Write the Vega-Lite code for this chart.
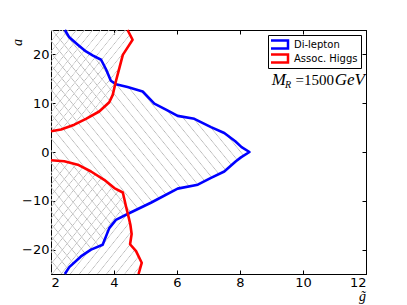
{
  "$schema": "https://vega.github.io/schema/vega-lite/v6.json",
  "autosize": {"type": "none"},
  "padding": {"left": 51, "top": 30, "right": 41, "bottom": 31},
  "width": 315,
  "height": 244,
  "background": "white",
  "config": {
    "view": {"stroke": "black", "strokeWidth": 1},
    "axis": {
      "domainColor": "black", "tickColor": "black", "labelColor": "black",
      "labelFont": "DejaVu Sans", "labelFontSize": 13, "grid": false,
      "tickSize": -4, "labelPadding": 6, "tickWidth": 1, "domainWidth": 1,
      "titleFont": "Liberation Serif", "titleFontStyle": "italic", "titleFontWeight": "normal", "titleFontSize": 14, "titleColor": "black"
    },
    "legend": {
      "orient": "top-right", "offset": 5,
      "strokeColor": "black", "fillColor": "white", "padding": 3,
      "labelFont": "DejaVu Sans", "labelFontSize": 10, "labelColor": "black",
      "symbolType": "M-4,-1.33H4V1.33H-4Z", "symbolSize": 36, "clipHeight": 13,
      "symbolStrokeWidth": 2.5, "symbolFillColor": "white", "labelOffset": 13, "rowPadding": 1, "titlePadding": 0
    }
  },
  "datasets": {
    "curves": [
      {"curve": "dl", "series": "Di-lepton", "i": 0, "g": 2.44, "a": 25},
      {"curve": "dl", "series": "Di-lepton", "i": 1, "g": 2.58, "a": 23.5},
      {"curve": "dl", "series": "Di-lepton", "i": 2, "g": 2.85, "a": 22.0},
      {"curve": "dl", "series": "Di-lepton", "i": 3, "g": 3.11, "a": 20.6},
      {"curve": "dl", "series": "Di-lepton", "i": 4, "g": 3.32, "a": 19.8},
      {"curve": "dl", "series": "Di-lepton", "i": 5, "g": 3.59, "a": 18.9},
      {"curve": "dl", "series": "Di-lepton", "i": 6, "g": 3.75, "a": 16.9},
      {"curve": "dl", "series": "Di-lepton", "i": 7, "g": 3.90, "a": 14.6},
      {"curve": "dl", "series": "Di-lepton", "i": 8, "g": 4.06, "a": 13.9},
      {"curve": "dl", "series": "Di-lepton", "i": 9, "g": 4.43, "a": 13.3},
      {"curve": "dl", "series": "Di-lepton", "i": 10, "g": 4.91, "a": 12.4},
      {"curve": "dl", "series": "Di-lepton", "i": 11, "g": 5.28, "a": 9.9},
      {"curve": "dl", "series": "Di-lepton", "i": 12, "g": 5.65, "a": 8.7},
      {"curve": "dl", "series": "Di-lepton", "i": 13, "g": 6.02, "a": 7.4},
      {"curve": "dl", "series": "Di-lepton", "i": 14, "g": 6.55, "a": 6.8},
      {"curve": "dl", "series": "Di-lepton", "i": 15, "g": 7.08, "a": 5.1},
      {"curve": "dl", "series": "Di-lepton", "i": 16, "g": 7.50, "a": 3.9},
      {"curve": "dl", "series": "Di-lepton", "i": 17, "g": 7.85, "a": 2.2},
      {"curve": "dl", "series": "Di-lepton", "i": 18, "g": 8.05, "a": 1.0},
      {"curve": "dl", "series": "Di-lepton", "i": 19, "g": 8.30, "a": 0.0},
      {"curve": "dl", "series": "Di-lepton", "i": 20, "g": 8.03, "a": -1.1},
      {"curve": "dl", "series": "Di-lepton", "i": 21, "g": 7.87, "a": -1.9},
      {"curve": "dl", "series": "Di-lepton", "i": 22, "g": 7.50, "a": -4.0},
      {"curve": "dl", "series": "Di-lepton", "i": 23, "g": 7.08, "a": -5.3},
      {"curve": "dl", "series": "Di-lepton", "i": 24, "g": 6.66, "a": -6.7},
      {"curve": "dl", "series": "Di-lepton", "i": 25, "g": 6.02, "a": -7.5},
      {"curve": "dl", "series": "Di-lepton", "i": 26, "g": 5.17, "a": -10.4},
      {"curve": "dl", "series": "Di-lepton", "i": 27, "g": 4.43, "a": -12.7},
      {"curve": "dl", "series": "Di-lepton", "i": 28, "g": 4.06, "a": -13.9},
      {"curve": "dl", "series": "Di-lepton", "i": 29, "g": 3.85, "a": -15.6},
      {"curve": "dl", "series": "Di-lepton", "i": 30, "g": 3.64, "a": -19.0},
      {"curve": "dl", "series": "Di-lepton", "i": 31, "g": 3.27, "a": -20.0},
      {"curve": "dl", "series": "Di-lepton", "i": 32, "g": 2.95, "a": -21.4},
      {"curve": "dl", "series": "Di-lepton", "i": 33, "g": 2.58, "a": -23.6},
      {"curve": "dl", "series": "Di-lepton", "i": 34, "g": 2.44, "a": -25},
      {"curve": "ahU", "series": "Assoc. Higgs", "i": 0, "g": 2.0, "a": 4.24},
      {"curve": "ahU", "series": "Assoc. Higgs", "i": 1, "g": 2.32, "a": 4.6},
      {"curve": "ahU", "series": "Assoc. Higgs", "i": 2, "g": 2.74, "a": 5.6},
      {"curve": "ahU", "series": "Assoc. Higgs", "i": 3, "g": 3.11, "a": 6.8},
      {"curve": "ahU", "series": "Assoc. Higgs", "i": 4, "g": 3.53, "a": 8.3},
      {"curve": "ahU", "series": "Assoc. Higgs", "i": 5, "g": 3.85, "a": 10.2},
      {"curve": "ahU", "series": "Assoc. Higgs", "i": 6, "g": 3.96, "a": 11.7},
      {"curve": "ahU", "series": "Assoc. Higgs", "i": 7, "g": 4.06, "a": 14.5},
      {"curve": "ahU", "series": "Assoc. Higgs", "i": 8, "g": 4.17, "a": 17.2},
      {"curve": "ahU", "series": "Assoc. Higgs", "i": 9, "g": 4.28, "a": 19.9},
      {"curve": "ahU", "series": "Assoc. Higgs", "i": 10, "g": 4.49, "a": 22.0},
      {"curve": "ahU", "series": "Assoc. Higgs", "i": 11, "g": 4.59, "a": 23.0},
      {"curve": "ahU", "series": "Assoc. Higgs", "i": 12, "g": 4.43, "a": 25.0},
      {"curve": "ahL", "series": "Assoc. Higgs", "i": 0, "g": 2.0, "a": -1.7},
      {"curve": "ahL", "series": "Assoc. Higgs", "i": 1, "g": 2.42, "a": -1.9},
      {"curve": "ahL", "series": "Assoc. Higgs", "i": 2, "g": 2.85, "a": -2.6},
      {"curve": "ahL", "series": "Assoc. Higgs", "i": 3, "g": 3.27, "a": -4.0},
      {"curve": "ahL", "series": "Assoc. Higgs", "i": 4, "g": 3.69, "a": -5.7},
      {"curve": "ahL", "series": "Assoc. Higgs", "i": 5, "g": 4.01, "a": -7.4},
      {"curve": "ahL", "series": "Assoc. Higgs", "i": 6, "g": 4.28, "a": -8.3},
      {"curve": "ahL", "series": "Assoc. Higgs", "i": 7, "g": 4.38, "a": -11.1},
      {"curve": "ahL", "series": "Assoc. Higgs", "i": 8, "g": 4.47, "a": -13.5},
      {"curve": "ahL", "series": "Assoc. Higgs", "i": 9, "g": 4.52, "a": -14.9},
      {"curve": "ahL", "series": "Assoc. Higgs", "i": 10, "g": 4.56, "a": -16.8},
      {"curve": "ahL", "series": "Assoc. Higgs", "i": 11, "g": 4.51, "a": -18.9},
      {"curve": "ahL", "series": "Assoc. Higgs", "i": 12, "g": 4.70, "a": -20.3},
      {"curve": "ahL", "series": "Assoc. Higgs", "i": 13, "g": 4.88, "a": -22.7},
      {"curve": "ahL", "series": "Assoc. Higgs", "i": 14, "g": 4.78, "a": -25.0}
    ],
    "labels": [
      {"t": "M", "g": 12, "a": 13.7},
      {"t": "R", "g": 12, "a": 13.7},
      {"t": "=1500", "g": 12, "a": 13.7},
      {"t": "GeV", "g": 12, "a": 13.7}
    ]
  },
  "data": {"name": "curves"},
  "resolve": {"axis": {"x": "independent", "y": "independent"}},
  "layer": [
    {
      "transform": [{"filter": "datum.curve == 'dl'"}],
      "mark": {
        "type": "area", "orient": "horizontal", "strokeWidth": 0,
        "fill": {"gradient": "linear", "x1": 0, "y1": 1, "x2": 1, "y2": 0, "stops": [
          {"offset": 0, "color": "rgba(255,255,255,0)"}, {"offset": 0.003, "color": "#b8b8b8"}, {"offset": 0.006, "color": "rgba(255,255,255,0)"},
          {"offset": 0.025, "color": "rgba(255,255,255,0)"}, {"offset": 0.028, "color": "#b8b8b8"}, {"offset": 0.031, "color": "rgba(255,255,255,0)"},
          {"offset": 0.05, "color": "rgba(255,255,255,0)"}, {"offset": 0.053, "color": "#b8b8b8"}, {"offset": 0.056, "color": "rgba(255,255,255,0)"},
          {"offset": 0.075, "color": "rgba(255,255,255,0)"}, {"offset": 0.078, "color": "#b8b8b8"}, {"offset": 0.081, "color": "rgba(255,255,255,0)"},
          {"offset": 0.1, "color": "rgba(255,255,255,0)"}, {"offset": 0.103, "color": "#b8b8b8"}, {"offset": 0.106, "color": "rgba(255,255,255,0)"},
          {"offset": 0.125, "color": "rgba(255,255,255,0)"}, {"offset": 0.128, "color": "#b8b8b8"}, {"offset": 0.131, "color": "rgba(255,255,255,0)"},
          {"offset": 0.15, "color": "rgba(255,255,255,0)"}, {"offset": 0.153, "color": "#b8b8b8"}, {"offset": 0.156, "color": "rgba(255,255,255,0)"},
          {"offset": 0.175, "color": "rgba(255,255,255,0)"}, {"offset": 0.178, "color": "#b8b8b8"}, {"offset": 0.181, "color": "rgba(255,255,255,0)"},
          {"offset": 0.2, "color": "rgba(255,255,255,0)"}, {"offset": 0.203, "color": "#b8b8b8"}, {"offset": 0.206, "color": "rgba(255,255,255,0)"},
          {"offset": 0.225, "color": "rgba(255,255,255,0)"}, {"offset": 0.228, "color": "#b8b8b8"}, {"offset": 0.231, "color": "rgba(255,255,255,0)"},
          {"offset": 0.25, "color": "rgba(255,255,255,0)"}, {"offset": 0.253, "color": "#b8b8b8"}, {"offset": 0.256, "color": "rgba(255,255,255,0)"},
          {"offset": 0.275, "color": "rgba(255,255,255,0)"}, {"offset": 0.278, "color": "#b8b8b8"}, {"offset": 0.281, "color": "rgba(255,255,255,0)"},
          {"offset": 0.3, "color": "rgba(255,255,255,0)"}, {"offset": 0.303, "color": "#b8b8b8"}, {"offset": 0.306, "color": "rgba(255,255,255,0)"},
          {"offset": 0.325, "color": "rgba(255,255,255,0)"}, {"offset": 0.328, "color": "#b8b8b8"}, {"offset": 0.331, "color": "rgba(255,255,255,0)"},
          {"offset": 0.35, "color": "rgba(255,255,255,0)"}, {"offset": 0.353, "color": "#b8b8b8"}, {"offset": 0.356, "color": "rgba(255,255,255,0)"},
          {"offset": 0.375, "color": "rgba(255,255,255,0)"}, {"offset": 0.378, "color": "#b8b8b8"}, {"offset": 0.381, "color": "rgba(255,255,255,0)"},
          {"offset": 0.4, "color": "rgba(255,255,255,0)"}, {"offset": 0.403, "color": "#b8b8b8"}, {"offset": 0.406, "color": "rgba(255,255,255,0)"},
          {"offset": 0.425, "color": "rgba(255,255,255,0)"}, {"offset": 0.428, "color": "#b8b8b8"}, {"offset": 0.431, "color": "rgba(255,255,255,0)"},
          {"offset": 0.45, "color": "rgba(255,255,255,0)"}, {"offset": 0.453, "color": "#b8b8b8"}, {"offset": 0.456, "color": "rgba(255,255,255,0)"},
          {"offset": 0.475, "color": "rgba(255,255,255,0)"}, {"offset": 0.478, "color": "#b8b8b8"}, {"offset": 0.481, "color": "rgba(255,255,255,0)"},
          {"offset": 0.5, "color": "rgba(255,255,255,0)"}, {"offset": 0.503, "color": "#b8b8b8"}, {"offset": 0.506, "color": "rgba(255,255,255,0)"},
          {"offset": 0.525, "color": "rgba(255,255,255,0)"}, {"offset": 0.528, "color": "#b8b8b8"}, {"offset": 0.531, "color": "rgba(255,255,255,0)"},
          {"offset": 0.55, "color": "rgba(255,255,255,0)"}, {"offset": 0.553, "color": "#b8b8b8"}, {"offset": 0.556, "color": "rgba(255,255,255,0)"},
          {"offset": 0.575, "color": "rgba(255,255,255,0)"}, {"offset": 0.578, "color": "#b8b8b8"}, {"offset": 0.581, "color": "rgba(255,255,255,0)"},
          {"offset": 0.6, "color": "rgba(255,255,255,0)"}, {"offset": 0.603, "color": "#b8b8b8"}, {"offset": 0.606, "color": "rgba(255,255,255,0)"},
          {"offset": 0.625, "color": "rgba(255,255,255,0)"}, {"offset": 0.628, "color": "#b8b8b8"}, {"offset": 0.631, "color": "rgba(255,255,255,0)"},
          {"offset": 0.65, "color": "rgba(255,255,255,0)"}, {"offset": 0.653, "color": "#b8b8b8"}, {"offset": 0.656, "color": "rgba(255,255,255,0)"},
          {"offset": 0.675, "color": "rgba(255,255,255,0)"}, {"offset": 0.678, "color": "#b8b8b8"}, {"offset": 0.681, "color": "rgba(255,255,255,0)"},
          {"offset": 0.7, "color": "rgba(255,255,255,0)"}, {"offset": 0.703, "color": "#b8b8b8"}, {"offset": 0.706, "color": "rgba(255,255,255,0)"},
          {"offset": 0.725, "color": "rgba(255,255,255,0)"}, {"offset": 0.728, "color": "#b8b8b8"}, {"offset": 0.731, "color": "rgba(255,255,255,0)"},
          {"offset": 0.75, "color": "rgba(255,255,255,0)"}, {"offset": 0.753, "color": "#b8b8b8"}, {"offset": 0.756, "color": "rgba(255,255,255,0)"},
          {"offset": 0.775, "color": "rgba(255,255,255,0)"}, {"offset": 0.778, "color": "#b8b8b8"}, {"offset": 0.781, "color": "rgba(255,255,255,0)"},
          {"offset": 0.8, "color": "rgba(255,255,255,0)"}, {"offset": 0.803, "color": "#b8b8b8"}, {"offset": 0.806, "color": "rgba(255,255,255,0)"},
          {"offset": 0.825, "color": "rgba(255,255,255,0)"}, {"offset": 0.828, "color": "#b8b8b8"}, {"offset": 0.831, "color": "rgba(255,255,255,0)"},
          {"offset": 0.85, "color": "rgba(255,255,255,0)"}, {"offset": 0.853, "color": "#b8b8b8"}, {"offset": 0.856, "color": "rgba(255,255,255,0)"},
          {"offset": 0.875, "color": "rgba(255,255,255,0)"}, {"offset": 0.878, "color": "#b8b8b8"}, {"offset": 0.881, "color": "rgba(255,255,255,0)"},
          {"offset": 0.9, "color": "rgba(255,255,255,0)"}, {"offset": 0.903, "color": "#b8b8b8"}, {"offset": 0.906, "color": "rgba(255,255,255,0)"},
          {"offset": 0.925, "color": "rgba(255,255,255,0)"}, {"offset": 0.928, "color": "#b8b8b8"}, {"offset": 0.931, "color": "rgba(255,255,255,0)"},
          {"offset": 0.95, "color": "rgba(255,255,255,0)"}, {"offset": 0.953, "color": "#b8b8b8"}, {"offset": 0.956, "color": "rgba(255,255,255,0)"},
          {"offset": 0.975, "color": "rgba(255,255,255,0)"}, {"offset": 0.978, "color": "#b8b8b8"}, {"offset": 0.981, "color": "rgba(255,255,255,0)"},
          {"offset": 1, "color": "rgba(255,255,255,0)"}
        ]}
      },
      "encoding": {
        "y": {"field": "a", "type": "quantitative", "scale": {"domain": [-25, 25], "nice": false, "zero": false},
              "axis": {"orient": "left", "values": [-20, -10, 0, 10, 20], "title": "a", "titleX": -34, "titleY": 12, "titleAngle": -90, "titleAlign": "center", "titleBaseline": "middle"}},
        "x": {"field": "g", "type": "quantitative", "scale": {"domain": [2, 12], "nice": false, "zero": false},
              "axis": {"orient": "bottom", "values": [2, 4, 6, 8, 10, 12], "title": "g̃", "titleX": 311, "titleY": 22, "titleAngle": 0, "titleAlign": "center", "titleBaseline": "middle"}},
        "x2": {"datum": 2}
      }
    },
    {
      "transform": [{"filter": "datum.curve != 'dl'"}],
      "mark": {
        "type": "area", "orient": "horizontal", "strokeWidth": 0,
        "fill": {"gradient": "linear", "x1": 0, "y1": 0, "x2": 1, "y2": 1, "stops": [
          {"offset": 0, "color": "rgba(255,255,255,0)"}, {"offset": 0.006, "color": "#b8b8b8"}, {"offset": 0.012, "color": "rgba(255,255,255,0)"},
          {"offset": 0.05, "color": "rgba(255,255,255,0)"}, {"offset": 0.056, "color": "#b8b8b8"}, {"offset": 0.062, "color": "rgba(255,255,255,0)"},
          {"offset": 0.1, "color": "rgba(255,255,255,0)"}, {"offset": 0.106, "color": "#b8b8b8"}, {"offset": 0.112, "color": "rgba(255,255,255,0)"},
          {"offset": 0.15, "color": "rgba(255,255,255,0)"}, {"offset": 0.156, "color": "#b8b8b8"}, {"offset": 0.162, "color": "rgba(255,255,255,0)"},
          {"offset": 0.2, "color": "rgba(255,255,255,0)"}, {"offset": 0.206, "color": "#b8b8b8"}, {"offset": 0.212, "color": "rgba(255,255,255,0)"},
          {"offset": 0.25, "color": "rgba(255,255,255,0)"}, {"offset": 0.256, "color": "#b8b8b8"}, {"offset": 0.262, "color": "rgba(255,255,255,0)"},
          {"offset": 0.3, "color": "rgba(255,255,255,0)"}, {"offset": 0.306, "color": "#b8b8b8"}, {"offset": 0.312, "color": "rgba(255,255,255,0)"},
          {"offset": 0.35, "color": "rgba(255,255,255,0)"}, {"offset": 0.356, "color": "#b8b8b8"}, {"offset": 0.362, "color": "rgba(255,255,255,0)"},
          {"offset": 0.4, "color": "rgba(255,255,255,0)"}, {"offset": 0.406, "color": "#b8b8b8"}, {"offset": 0.412, "color": "rgba(255,255,255,0)"},
          {"offset": 0.45, "color": "rgba(255,255,255,0)"}, {"offset": 0.456, "color": "#b8b8b8"}, {"offset": 0.462, "color": "rgba(255,255,255,0)"},
          {"offset": 0.5, "color": "rgba(255,255,255,0)"}, {"offset": 0.506, "color": "#b8b8b8"}, {"offset": 0.512, "color": "rgba(255,255,255,0)"},
          {"offset": 0.55, "color": "rgba(255,255,255,0)"}, {"offset": 0.556, "color": "#b8b8b8"}, {"offset": 0.562, "color": "rgba(255,255,255,0)"},
          {"offset": 0.6, "color": "rgba(255,255,255,0)"}, {"offset": 0.606, "color": "#b8b8b8"}, {"offset": 0.612, "color": "rgba(255,255,255,0)"},
          {"offset": 0.65, "color": "rgba(255,255,255,0)"}, {"offset": 0.656, "color": "#b8b8b8"}, {"offset": 0.662, "color": "rgba(255,255,255,0)"},
          {"offset": 0.7, "color": "rgba(255,255,255,0)"}, {"offset": 0.706, "color": "#b8b8b8"}, {"offset": 0.712, "color": "rgba(255,255,255,0)"},
          {"offset": 0.75, "color": "rgba(255,255,255,0)"}, {"offset": 0.756, "color": "#b8b8b8"}, {"offset": 0.762, "color": "rgba(255,255,255,0)"},
          {"offset": 0.8, "color": "rgba(255,255,255,0)"}, {"offset": 0.806, "color": "#b8b8b8"}, {"offset": 0.812, "color": "rgba(255,255,255,0)"},
          {"offset": 0.85, "color": "rgba(255,255,255,0)"}, {"offset": 0.856, "color": "#b8b8b8"}, {"offset": 0.862, "color": "rgba(255,255,255,0)"},
          {"offset": 0.9, "color": "rgba(255,255,255,0)"}, {"offset": 0.906, "color": "#b8b8b8"}, {"offset": 0.912, "color": "rgba(255,255,255,0)"},
          {"offset": 0.95, "color": "rgba(255,255,255,0)"}, {"offset": 0.956, "color": "#b8b8b8"}, {"offset": 0.962, "color": "rgba(255,255,255,0)"},
          {"offset": 1, "color": "rgba(255,255,255,0)"}
        ]}
      },
      "encoding": {
        "y": {"field": "a", "type": "quantitative", "scale": {"domain": [-25, 25], "nice": false, "zero": false}, "axis": null},
        "x": {"field": "g", "type": "quantitative", "scale": {"domain": [2, 12], "nice": false, "zero": false}, "axis": null},
        "x2": {"datum": 2},
        "detail": {"field": "curve"}
      }
    },
    {
      "transform": [{"filter": "datum.curve == 'dl'"}],
      "mark": {"type": "line", "strokeWidth": 2.6, "strokeJoin": "round"},
      "encoding": {
        "y": {"field": "a", "type": "quantitative", "scale": {"domain": [-25, 25], "nice": false, "zero": false},
              "axis": {"orient": "right", "values": [-20, -10, 0, 10, 20], "labels": false, "title": null}},
        "x": {"field": "g", "type": "quantitative", "scale": {"domain": [2, 12], "nice": false, "zero": false},
              "axis": {"orient": "top", "values": [2, 4, 6, 8, 10, 12], "labels": false, "title": null}},
        "color": {"field": "series", "type": "nominal", "scale": {"domain": ["Di-lepton", "Assoc. Higgs"], "range": ["#0000ff", "#ff0000"]}, "legend": {"title": null}},
        "order": {"field": "i", "type": "quantitative"}
      }
    },
    {
      "transform": [{"filter": "datum.curve != 'dl'"}],
      "mark": {"type": "line", "strokeWidth": 2.6, "strokeJoin": "round"},
      "encoding": {
        "y": {"field": "a", "type": "quantitative", "scale": {"domain": [-25, 25], "nice": false, "zero": false}, "axis": null},
        "x": {"field": "g", "type": "quantitative", "scale": {"domain": [2, 12], "nice": false, "zero": false}, "axis": null},
        "color": {"field": "series", "type": "nominal", "scale": {"domain": ["Di-lepton", "Assoc. Higgs"], "range": ["#0000ff", "#ff0000"]}, "legend": {"title": null}},
        "detail": {"field": "curve"},
        "order": {"field": "i", "type": "quantitative"}
      }
    },
    {
      "data": {"name": "labels"},
      "transform": [{"filter": "datum.t == 'M'"}],
      "mark": {"type": "text", "font": "Liberation Serif", "fontStyle": "italic", "fontSize": 17, "align": "right", "baseline": "alphabetic", "dx": -80, "color": "black"},
      "encoding": {
        "x": {"field": "g", "type": "quantitative", "scale": {"domain": [2, 12], "nice": false, "zero": false}, "axis": null},
        "y": {"field": "a", "type": "quantitative", "scale": {"domain": [-25, 25], "nice": false, "zero": false}, "axis": null},
        "text": {"field": "t"}
      }
    },
    {
      "data": {"name": "labels"},
      "transform": [{"filter": "datum.t == 'R'"}],
      "mark": {"type": "text", "font": "Liberation Serif", "fontStyle": "italic", "fontSize": 10, "align": "right", "baseline": "alphabetic", "dx": -75, "dy": 3, "color": "black"},
      "encoding": {
        "x": {"field": "g", "type": "quantitative", "scale": {"domain": [2, 12], "nice": false, "zero": false}, "axis": null},
        "y": {"field": "a", "type": "quantitative", "scale": {"domain": [-25, 25], "nice": false, "zero": false}, "axis": null},
        "text": {"field": "t"}
      }
    },
    {
      "data": {"name": "labels"},
      "transform": [{"filter": "datum.t == '=1500'"}],
      "mark": {"type": "text", "font": "Liberation Serif", "fontSize": 15, "align": "right", "baseline": "alphabetic", "dx": -32, "color": "black"},
      "encoding": {
        "x": {"field": "g", "type": "quantitative", "scale": {"domain": [2, 12], "nice": false, "zero": false}, "axis": null},
        "y": {"field": "a", "type": "quantitative", "scale": {"domain": [-25, 25], "nice": false, "zero": false}, "axis": null},
        "text": {"field": "t"}
      }
    },
    {
      "data": {"name": "labels"},
      "transform": [{"filter": "datum.t == 'GeV'"}],
      "mark": {"type": "text", "font": "Liberation Serif", "fontStyle": "italic", "fontSize": 17, "align": "right", "baseline": "alphabetic", "dx": -1, "color": "black"},
      "encoding": {
        "x": {"field": "g", "type": "quantitative", "scale": {"domain": [2, 12], "nice": false, "zero": false}, "axis": null},
        "y": {"field": "a", "type": "quantitative", "scale": {"domain": [-25, 25], "nice": false, "zero": false}, "axis": null},
        "text": {"field": "t"}
      }
    }
  ]
}
